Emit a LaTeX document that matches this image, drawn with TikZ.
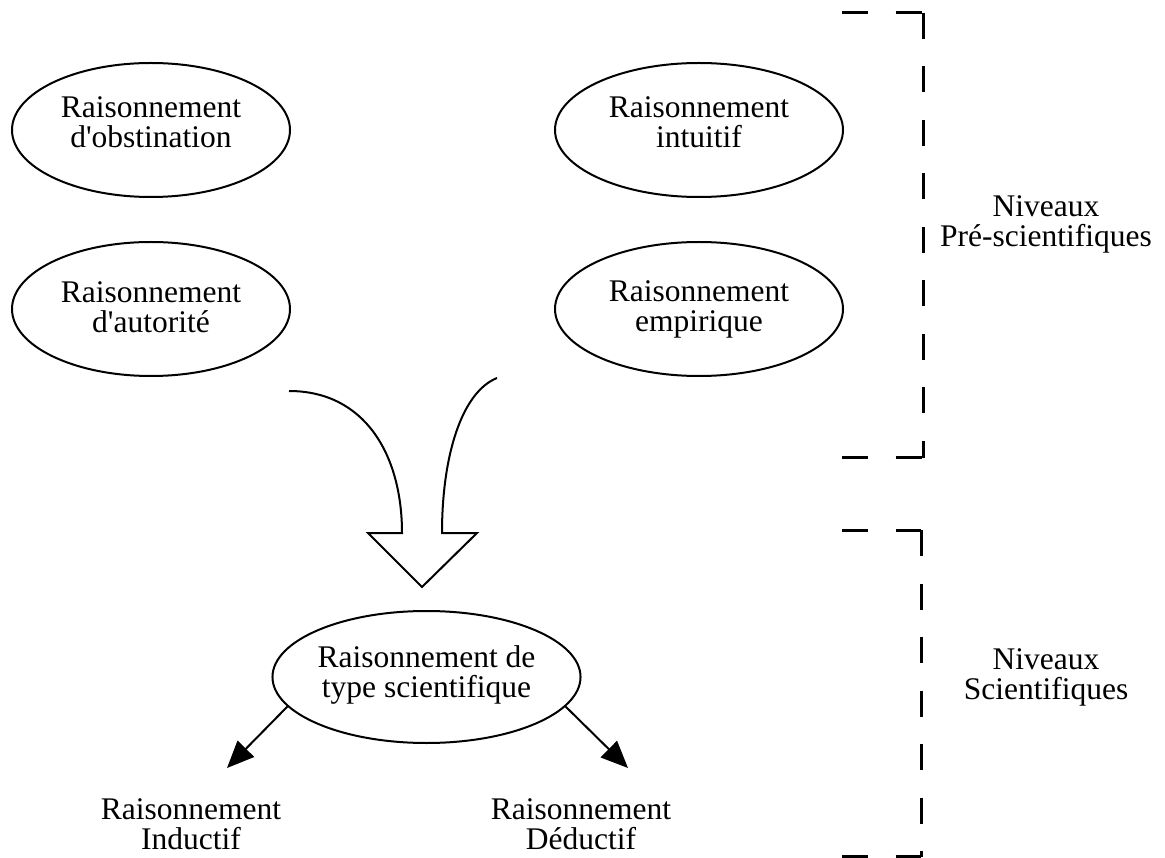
\documentclass[tikz,border=0pt]{standalone}
\usepackage{fontspec}
\setmainfont{Liberation Serif}[Ligatures=TeXOff]
\usetikzlibrary{arrows.meta,shapes.geometric}
\begin{document}
\begin{tikzpicture}[x=1pt,y=-1pt,
  txt/.style={font=\fontsize{31.5}{30}\selectfont, align=center, inner sep=0pt},
  oval/.style={ellipse, draw, line width=2pt, txt},
  bracket/.style={line width=3pt, dash pattern=on 26pt off 27.5pt},
  small/.style={line width=2pt, -{Triangle[length=27pt,width=23pt]}},
  bigarrow/.style={line width=2pt, line join=miter}]
\useasboundingbox (0,0) rectangle (1165,858);
% ovals
\node[oval, minimum width=278pt, minimum height=134pt, text depth=16pt] (e1) at (151,130) {Raisonnement\\d'obstination};
\node[oval, minimum width=288pt, minimum height=134pt, text depth=16pt] (e2) at (699,130) {Raisonnement\\intuitif};
\node[oval, minimum width=278pt, minimum height=134pt, text depth=4pt] (e3) at (151,309) {Raisonnement\\d'autorité};
\node[oval, minimum width=288pt, minimum height=134pt] (e4) at (699,309) {Raisonnement\\empirique};
\node[oval, minimum width=303pt, minimum height=132pt, text depth=10pt] (e5) at (426.5,677) {Raisonnement de\\type scientifique};
% leaves
\node[txt] (ind) at (191,824) {Raisonnement\\Inductif};
\node[txt] (ded) at (581,824) {Raisonnement\\Déductif};
\coordinate (ti) at (227,768);
\coordinate (td) at (628,768);
\draw[small] (e5.192.6) -- (ti);
\draw[small] (e5.348.3) -- (td);
% big hollow arrow
\coordinate (a1) at (289,391);
\coordinate (a2) at (497,378);
\draw[bigarrow] (a1) .. controls (365,391) and (402,455) .. (402,533)
  -- (368,533) -- (422,587) -- (477,533) -- (442,533)
  .. controls (442,455) and (462,392) .. (a2);
% labels
\node[txt] (pre) at (1046,224) {Niveaux\\Pré-scientifiques};
\node[txt] (sci) at (1046,677) {Niveaux\\Scientifiques};
% brackets
\coordinate (b1a) at (842,13);
\coordinate (b1b) at (923,13);
\coordinate (b1c) at (923,458);
\coordinate (b1d) at (842,458);
\draw[bracket] (b1a) -- (b1b);
\draw[bracket] (b1b) -- (b1c);
\draw[bracket] (b1d) -- (b1c);
\coordinate (b2a) at (842,530);
\coordinate (b2b) at (921,530);
\coordinate (b2c) at (921,856.5);
\coordinate (b2d) at (842,856.5);
\draw[bracket] (b2a) -- (b2b);
\draw[bracket] (b2b) -- (b2c);
\draw[bracket] (b2d) -- (b2c);
\end{tikzpicture}
\end{document}
